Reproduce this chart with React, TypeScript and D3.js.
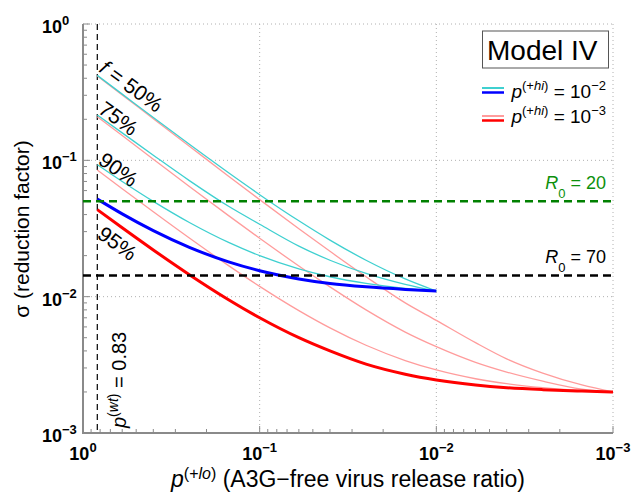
import React from "react";
import * as d3 from "d3";

// p(+lo) sample points (x axis)
const pLoHi2 = [0.83, 0.6, 0.4, 0.25, 0.15, 0.1, 0.06, 0.04, 0.025, 0.015, 0.01];
const pLoHi3 = [0.83, 0.6, 0.4, 0.25, 0.15, 0.1, 0.06, 0.04, 0.025, 0.015, 0.01, 0.006, 0.004, 0.0025, 0.0015, 0.001];

// sigma, p(+hi) = 1e-2
const cyan50 = [0.42, 0.306, 0.206, 0.131, 0.081, 0.056, 0.036, 0.026, 0.0185, 0.0135, 0.011];
const cyan75 = [0.215, 0.159, 0.109, 0.071, 0.046, 0.034, 0.0235, 0.0185, 0.0148, 0.0123, 0.011];
const cyan90 = [0.093, 0.07, 0.05, 0.035, 0.025, 0.02, 0.016, 0.014, 0.0125, 0.0115, 0.011];
const blue95 = [0.052, 0.0405, 0.0305, 0.023, 0.018, 0.0155, 0.0135, 0.0125, 0.0118, 0.0113, 0.011];

// sigma, p(+hi) = 1e-3
const pink50 = [0.416, 0.302, 0.202, 0.127, 0.0765, 0.0515, 0.0315, 0.0215, 0.014, 0.009, 0.0067, 0.0046, 0.0035, 0.00275, 0.00225, 0.002];
const pink75 = [0.209, 0.152, 0.102, 0.0643, 0.0393, 0.0268, 0.0168, 0.0118, 0.008, 0.0055, 0.0043, 0.0033, 0.0028, 0.0024, 0.0021, 0.002];
const pink90 = [0.085, 0.0619, 0.0419, 0.0269, 0.0169, 0.0119, 0.0079, 0.0059, 0.0044, 0.0034, 0.0029, 0.0025, 0.0023, 0.00215, 0.00205, 0.002];
const red95 = [0.0435, 0.032, 0.022, 0.0145, 0.0095, 0.007, 0.005, 0.004, 0.0032, 0.0027, 0.00245, 0.00225, 0.00215, 0.00208, 0.00203, 0.002];

const decades = [1, 0.1, 0.01, 0.001];
const tickExps = ["0", "−1", "−2", "−3"];
const fLabels = ["50%", "75%", "90%", "95%"];
const r0Labels = ["20", "70"];
const r0Sigma = [0.05, 0.0143];
const pWt = 0.83;

const FONT = "'Liberation Sans', Arial, Helvetica, sans-serif";

export default function App() {
  const x = d3.scaleLog().domain([1, 0.001]).range([83, 613]);
  const y = d3.scaleLog().domain([1, 0.001]).range([24, 433]);
  const [x0, x1] = x.range();
  const [y0, y1] = y.range();

  const line = (xs: number[], ys: number[]) =>
    d3
      .line<number>()
      .x((_, i) => x(xs[i]))
      .y((d) => y(d))
      .curve(d3.curveMonotoneX)(ys) as string;

  const minor: number[] = [];
  [0.1, 0.01, 0.001].forEach((dec) => {
    for (let k = 2; k <= 9; k++) minor.push(k * dec);
  });

  const axisColor = "#8a8a8a";
  const cyan = "#3fd0d0";
  const pink = "#ff9c9c";
  const green = "#0c900c";

  const fLabelPos = [
    [98, 71],
    [97, 112],
    [97, 163],
    [96, 237],
  ];

  return (
    <svg
      width={635}
      height={497}
      style={{ position: "absolute", left: 0, top: 0, background: "#fff" }}
      fontFamily={FONT}
    >
      {/* dotted grid */}
      <g stroke="#b0b0b0" strokeWidth={1} strokeDasharray="1 3">
        {decades.slice(1).map((d) => (
          <line key={"gx" + d} x1={x(d)} x2={x(d)} y1={y0} y2={y1} />
        ))}
        {decades.slice(0, 3).map((d) => (
          <line key={"gy" + d} x1={x0} x2={x1} y1={y(d)} y2={y(d)} />
        ))}
      </g>

      {/* axes */}
      <g stroke={axisColor}>
        <line x1={x0} x2={x0} y1={y0} y2={y1 + 1} strokeWidth={2} />
        <line x1={x0 - 1} x2={x1} y1={y1} y2={y1} strokeWidth={2} />
        {minor.map((d) => (
          <line key={"my" + d} x1={x0} x2={x0 + 4} y1={y(d)} y2={y(d)} strokeWidth={1} />
        ))}
        {minor.map((d) => (
          <line key={"mx" + d} x1={x(d)} x2={x(d)} y1={y1} y2={y1 - 4} strokeWidth={1} />
        ))}
        {decades.map((d) => (
          <line key={"My" + d} x1={x0} x2={x0 + 7} y1={y(d)} y2={y(d)} strokeWidth={1} />
        ))}
        {decades.map((d) => (
          <line key={"Mx" + d} x1={x(d)} x2={x(d)} y1={y1} y2={y1 - 7} strokeWidth={1} />
        ))}
      </g>

      {/* tick labels */}
      <g fontWeight="bold" fill="#000">
        {decades.map((d, i) => (
          <text key={"ty" + d} x={42} y={y(d) + 9} fontSize={18}>
            10
            <tspan dy={-8} fontSize={13}>
              {tickExps[i]}
            </tspan>
          </text>
        ))}
        {decades.map((d, i) => (
          <text key={"tx" + d} x={x(d)} y={460} fontSize={18} textAnchor="middle">
            10
            <tspan dy={-8} fontSize={13}>
              {tickExps[i]}
            </tspan>
          </text>
        ))}
      </g>

      {/* axis titles */}
      <text transform="translate(29,229) rotate(-90)" textAnchor="middle" fontSize={21}>
        σ (reduction factor)
      </text>
      <text x={(x0 + x1) / 2} y={487} textAnchor="middle" fontSize={23}>
        <tspan fontStyle="italic">p</tspan>
        <tspan dy={-8} fontSize={16}>(+</tspan>
        <tspan fontSize={16} fontStyle="italic">lo</tspan>
        <tspan fontSize={16}>)</tspan>
        <tspan dy={8}>{" (A3G−free virus release ratio)"}</tspan>
      </text>

      {/* p(wt) vertical */}
      <line
        x1={x(pWt)}
        x2={x(pWt)}
        y1={y0}
        y2={y1}
        stroke="#000"
        strokeWidth={1.2}
        strokeDasharray="6 4"
      />

      {/* curves */}
      <g fill="none">
        <path d={line(pLoHi3, pink50)} stroke={pink} strokeWidth={1.3} />
        <path d={line(pLoHi3, pink75)} stroke={pink} strokeWidth={1.3} />
        <path d={line(pLoHi3, pink90)} stroke={pink} strokeWidth={1.3} />
        <path d={line(pLoHi2, cyan50)} stroke={cyan} strokeWidth={1.3} />
        <path d={line(pLoHi2, cyan75)} stroke={cyan} strokeWidth={1.3} />
        <path d={line(pLoHi2, cyan90)} stroke={cyan} strokeWidth={1.3} />
        <path d={line(pLoHi3, red95)} stroke="#ff0000" strokeWidth={3} />
        <path d={line(pLoHi2, blue95)} stroke="#0000ff" strokeWidth={3} />
      </g>

      {/* R0 thresholds */}
      <line x1={x0} x2={x1} y1={y(r0Sigma[0])} y2={y(r0Sigma[0])} stroke="#008000" strokeWidth={2.5} strokeDasharray="8 5" />
      <line x1={x0} x2={x1} y1={y(r0Sigma[1])} y2={y(r0Sigma[1])} stroke="#000" strokeWidth={2.5} strokeDasharray="8 5" />
      {r0Labels.map((r, i) => (
        <text
          key={r}
          x={606}
          y={y(r0Sigma[i]) - 12}
          textAnchor="end"
          fontSize={18}
          fill={i === 0 ? green : "#000"}
        >
          <tspan fontStyle="italic">R</tspan>
          <tspan dy={9} fontSize={13}>0</tspan>
          <tspan dy={-9}>{" = " + r}</tspan>
        </text>
      ))}

      {/* f labels */}
      {fLabels.map((lab, i) => (
        <text
          key={lab}
          transform={`translate(${fLabelPos[i][0]},${fLabelPos[i][1]}) rotate(36)`}
          fontSize={21}
        >
          {i === 0 && <tspan fontStyle="italic">f</tspan>}
          {i === 0 ? " = " + lab : lab}
        </text>
      ))}

      {/* p(wt) label */}
      <text transform={`translate(126,428) rotate(-90)`} fontSize={20}>
        <tspan fontStyle="italic">p</tspan>
        <tspan dy={-8} fontSize={14}>(</tspan>
        <tspan fontSize={14} fontStyle="italic">wt</tspan>
        <tspan fontSize={14}>)</tspan>
        <tspan dy={8}>{" = " + pWt}</tspan>
      </text>

      {/* Model box */}
      <rect x={482.5} y={31} width={126} height={37} fill="#fff" stroke="#555" strokeWidth={1} />
      <text x={487} y={60} fontSize={28}>
        Model IV
      </text>

      {/* legend */}
      <line x1={482} x2={504} y1={88} y2={88} stroke={cyan} strokeWidth={2} />
      <line x1={482} x2={504} y1={92.5} y2={92.5} stroke="#0000ff" strokeWidth={2.5} />
      <line x1={482} x2={504} y1={116} y2={116} stroke={pink} strokeWidth={2} />
      <line x1={482} x2={504} y1={120.5} y2={120.5} stroke="#ff0000" strokeWidth={2.5} />
      {["−2", "−3"].map((e, i) => (
        <text key={e} x={606} y={98 + i * 24.5} textAnchor="end" fontSize={19}>
          <tspan fontStyle="italic">p</tspan>
          <tspan dy={-8} fontSize={13}>(+</tspan>
          <tspan fontSize={13} fontStyle="italic">hi</tspan>
          <tspan fontSize={13}>)</tspan>
          <tspan dy={8}>{" = 10"}</tspan>
          <tspan dy={-8} fontSize={13}>{e}</tspan>
        </text>
      ))}
    </svg>
  );
}
